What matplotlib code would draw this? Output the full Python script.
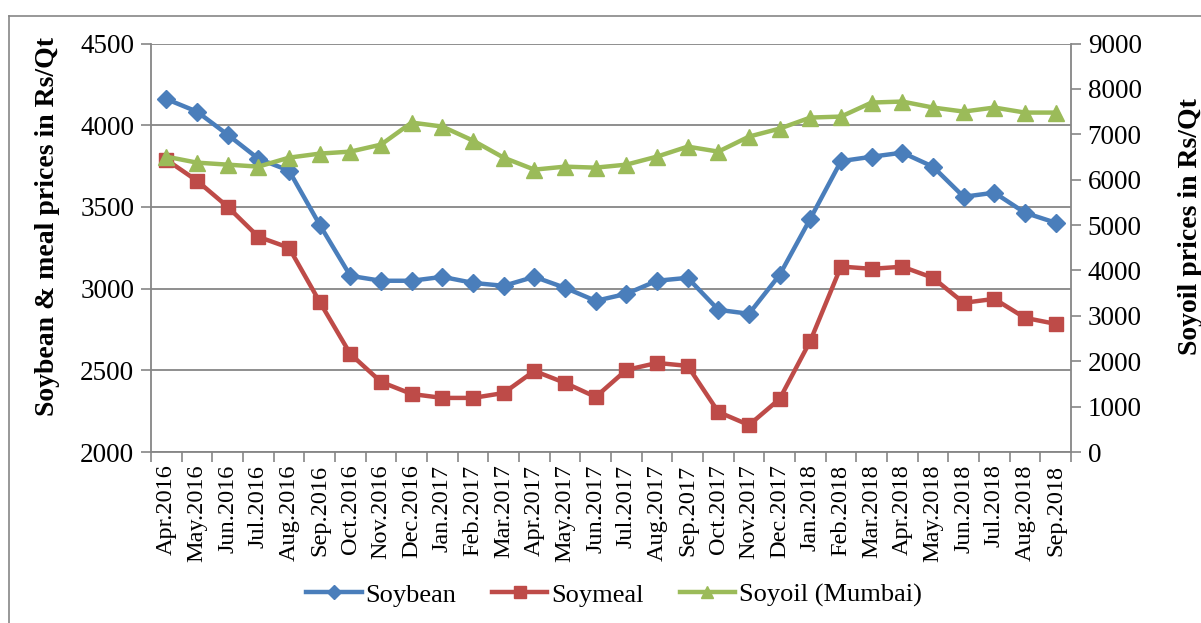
import matplotlib
matplotlib.use("Agg")
import matplotlib.pyplot as plt
from matplotlib.lines import Line2D
import numpy as np

months = ["Apr.2016", "May.2016", "Jun.2016", "Jul.2016", "Aug.2016", "Sep.2016",
          "Oct.2016", "Nov.2016", "Dec.2016", "Jan.2017", "Feb.2017", "Mar.2017",
          "Apr.2017", "May.2017", "Jun.2017", "Jul.2017", "Aug.2017", "Sep.2017",
          "Oct.2017", "Nov.2017", "Dec.2017", "Jan.2018", "Feb.2018", "Mar.2018",
          "Apr.2018", "May.2018", "Jun.2018", "Jul.2018", "Aug.2018", "Sep.2018"]

soybean = [4160, 4083, 3942, 3795, 3722, 3391, 3078, 3048, 3048, 3072,
           3035, 3017, 3072, 3005, 2925, 2968, 3048, 3066, 2870, 2846,
           3084, 3428, 3780, 3807, 3832, 3746, 3562, 3587, 3464, 3403]

soymeal = [3789, 3660, 3501, 3317, 3250, 2919, 2600, 2429, 2355, 2331,
           2331, 2361, 2496, 2423, 2337, 2502, 2545, 2527, 2245, 2165,
           2325, 2680, 3135, 3121, 3134, 3066, 2913, 2937, 2821, 2784]

soyoil = [6507, 6375, 6331, 6287, 6485, 6574, 6618, 6772, 7258, 7170,
          6861, 6485, 6221, 6287, 6265, 6331, 6508, 6728, 6618, 6949,
          7125, 7368, 7390, 7699, 7721, 7589, 7500, 7589, 7478, 7478]

left_ticks = [2000, 2500, 3000, 3500, 4000, 4500]
right_ticks = [0, 1000, 2000, 3000, 4000, 5000, 6000, 7000, 8000, 9000]

series_names = ["Soybean", "Soymeal", "Soyoil (Mumbai)"]

plt.rcParams['font.family'] = ['Liberation Serif', 'DejaVu Serif']

W, H = 1201, 623
fig = plt.figure(figsize=(W / 100, H / 100), dpi=100)

# outer border (frame of the chart object)
fig.add_artist(Line2D([9 / W, 9 / W], [0, 1 - 16 / H], color="#868686", lw=1.2))
fig.add_artist(Line2D([9 / W, 1], [1 - 16 / H, 1 - 16 / H], color="#868686", lw=1.2))

left, right, top, bottom = 151, 1071, 43.5, 452
ax = fig.add_axes([left / W, 1 - bottom / H, (right - left) / W, (bottom - top) / H])
ax2 = ax.twinx()

x = np.arange(len(months))
grid_c = "#868686"

blue = "#4A7EBB"
red = "#BE4B48"
green = "#9BBB59"

l1, = ax.plot(x, soybean, color=blue, lw=3.2, marker="D", ms=9, mec=blue, mfc=blue,
              label=series_names[0], zorder=3)
l2, = ax.plot(x, soymeal, color=red, lw=3.2, marker="s", ms=10, mec=red, mfc=red,
              label=series_names[1], zorder=3)
l3, = ax2.plot(x, soyoil, color=green, lw=3.2, marker="^", ms=11, mec=green, mfc=green,
               label=series_names[2], zorder=3)

ax.set_ylim(2000, 4500)
ax2.set_ylim(0, 9000)
ax.set_xlim(-0.5, len(months) - 0.5)
ax.set_yticks(left_ticks)
ax2.set_yticks(right_ticks)

ax.set_xticks(x)
ax.set_xticklabels(months, rotation=90, fontsize=17.5)
ax.set_xticks(np.arange(-0.5, len(months), 1.0), minor=True)
ax.tick_params(axis="x", which="major", length=0, pad=9)
ax.tick_params(axis="x", which="minor", length=7, width=1.2, color=grid_c, direction="out")
ax.tick_params(axis="y", length=7, width=1.2, color=grid_c, labelsize=19.5, pad=5)
ax2.tick_params(axis="y", length=7, width=1.2, color=grid_c, labelsize=19.5, pad=5)

ax.grid(axis="y", color=grid_c, lw=1.3, zorder=0)
ax.set_axisbelow(True)

for a in (ax, ax2):
    a.spines["top"].set_visible(False)
    for s in ("left", "right", "bottom"):
        a.spines[s].set_color(grid_c)
        a.spines[s].set_linewidth(1.3)
ax.spines["right"].set_visible(False)
ax2.spines["left"].set_visible(False)
ax2.spines["bottom"].set_visible(False)

ax.set_ylabel("Soybean & meal prices in Rs/Qt", fontsize=20, fontweight="bold")
ax2.set_ylabel("Soyoil prices in Rs/Qt", fontsize=20, fontweight="bold")
ax.yaxis.set_label_coords(-0.099, 0.553)
ax2.yaxis.set_label_coords(1.116, 0.553)

fig.legend(handles=[l1, l2, l3], labels=series_names, loc="center",
           bbox_to_anchor=(614 / W, 1 - 595 / H), ncol=3, frameon=False,
           fontsize=19, handlelength=2.1, handletextpad=0.15, columnspacing=1.35,
           markerscale=0.8)

fig.savefig("out.png", dpi=100)
